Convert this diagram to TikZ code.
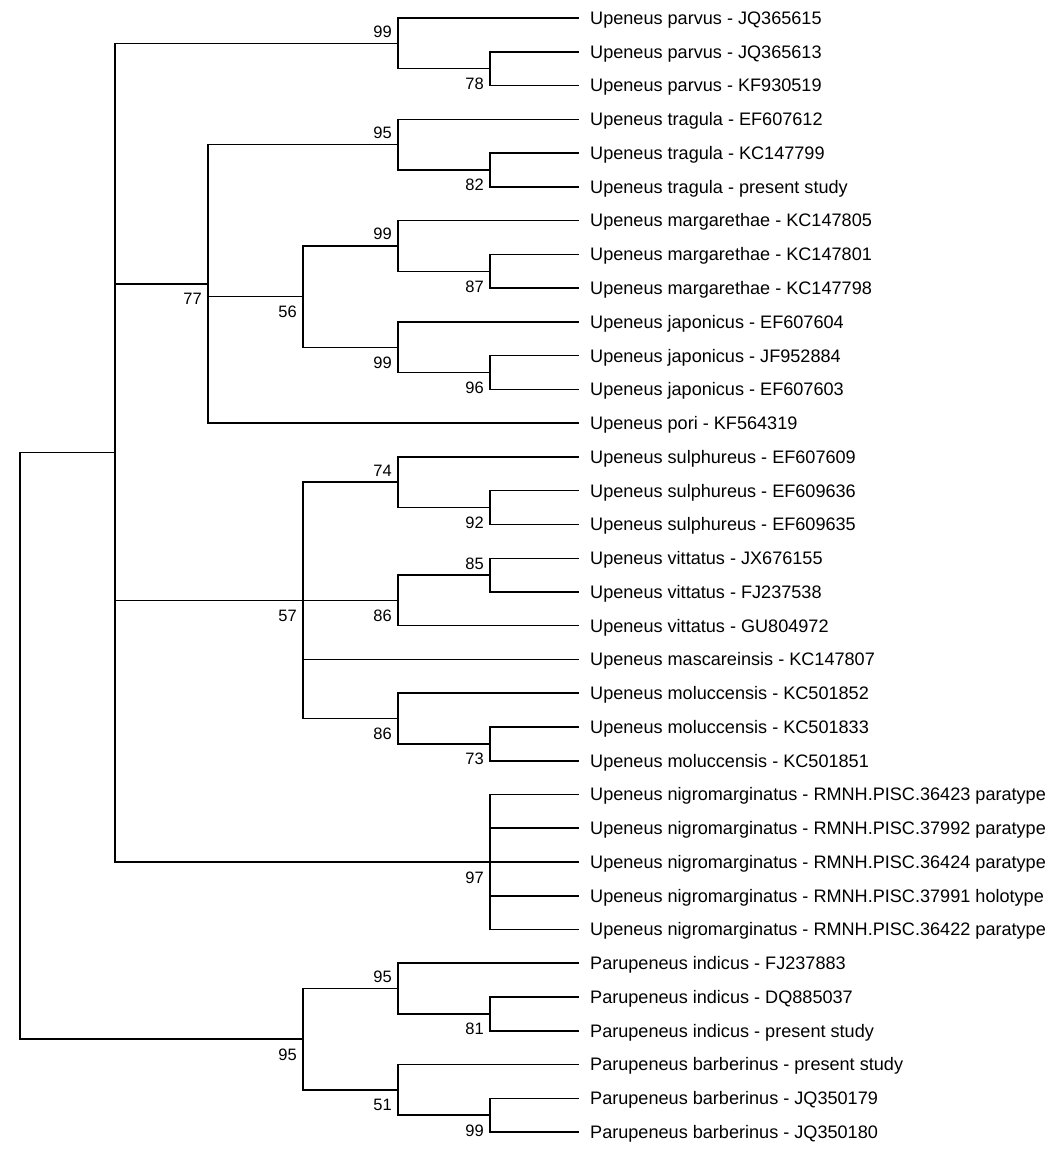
\documentclass[tikz,border=0pt]{standalone}
\usepackage{fontspec}
\setmainfont{Liberation Sans}
\usetikzlibrary{calc}
\tikzset{
  br/.style={line width=1.6pt, line cap=rect},
  thinbr/.style={line width=1.1pt, line cap=rect},
  leaf/.style={anchor=base west, inner sep=0pt, font=\fontsize{18.1}{20}\selectfont},
  bsa/.style={anchor=base east, inner sep=0pt, font=\fontsize{16.5}{18}\selectfont},
}
\newcommand\mkinner[4]{\coordinate (tmp#1) at ($(#3)!.5!(#4)$); \coordinate (#1) at (#2,0 |- tmp#1);}
\begin{document}
\begin{tikzpicture}[x=1pt,y=-1pt]
\useasboundingbox (0,0) rectangle (1061,1149);
\foreach \i/\t in {
 1/{Upeneus parvus - JQ365615},
 2/{Upeneus parvus - JQ365613},
 3/{Upeneus parvus - KF930519},
 4/{Upeneus tragula - EF607612},
 5/{Upeneus tragula - KC147799},
 6/{Upeneus tragula - present study},
 7/{Upeneus margarethae - KC147805},
 8/{Upeneus margarethae - KC147801},
 9/{Upeneus margarethae - KC147798},
 10/{Upeneus japonicus - EF607604},
 11/{Upeneus japonicus - JF952884},
 12/{Upeneus japonicus - EF607603},
 13/{Upeneus pori - KF564319},
 14/{Upeneus sulphureus - EF607609},
 15/{Upeneus sulphureus - EF609636},
 16/{Upeneus sulphureus - EF609635},
 17/{Upeneus vittatus - JX676155},
 18/{Upeneus vittatus - FJ237538},
 19/{Upeneus vittatus - GU804972},
 20/{Upeneus mascareinsis - KC147807},
 21/{Upeneus moluccensis - KC501852},
 22/{Upeneus moluccensis - KC501833},
 23/{Upeneus moluccensis - KC501851},
 24/{Upeneus nigromarginatus - RMNH.PISC.36423 paratype},
 25/{Upeneus nigromarginatus - RMNH.PISC.37992 paratype},
 26/{Upeneus nigromarginatus - RMNH.PISC.36424 paratype},
 27/{Upeneus nigromarginatus - RMNH.PISC.37991 holotype},
 28/{Upeneus nigromarginatus - RMNH.PISC.36422 paratype},
 29/{Parupeneus indicus - FJ237883},
 30/{Parupeneus indicus - DQ885037},
 31/{Parupeneus indicus - present study},
 32/{Parupeneus barberinus - present study},
 33/{Parupeneus barberinus - JQ350179},
 34/{Parupeneus barberinus - JQ350180}}{
  \coordinate (e\i) at (578,{18+(\i-1)*33.76});
  \node[leaf] (t\i) at (590,{24.4+(\i-1)*33.76}) {\t};
}
% inner nodes
\mkinner{a78}{490}{e2}{e3}
\mkinner{a99p}{398}{e1}{a78}
\mkinner{a82}{490}{e5}{e6}
\mkinner{a95t}{398}{e4}{a82}
\mkinner{a87}{490}{e8}{e9}
\mkinner{a99m}{398}{e7}{a87}
\mkinner{a96}{490}{e11}{e12}
\mkinner{a99j}{398}{e10}{a96}
\mkinner{a56}{303}{a99m}{a99j}
\mkinner{a77}{208}{a95t}{e13}
\mkinner{a92}{490}{e15}{e16}
\mkinner{a74}{398}{e14}{a92}
\mkinner{a85}{490}{e17}{e18}
\mkinner{a86v}{398}{a85}{e19}
\mkinner{a73}{490}{e22}{e23}
\mkinner{a86m}{398}{e21}{a73}
\mkinner{a57}{303}{a74}{a86m}
\mkinner{a97}{490}{e24}{e28}
\mkinner{aU}{115}{a99p}{a97}
\mkinner{a81}{490}{e30}{e31}
\mkinner{a95i}{398}{e29}{a81}
\mkinner{a99b}{490}{e33}{e34}
\mkinner{a51}{398}{e32}{a99b}
\mkinner{a95P}{303}{a95i}{a51}
\mkinner{root}{20}{aU}{a95P}
% branches
\draw[br] (a78) |- (e2) (a78) |- (e3);
\draw[br] (a99p) |- (e1) (a99p) |- (a78);
\draw[br] (a82) |- (e5) (a82) |- (e6);
\draw[thinbr] (a95t) |- (e4);
\draw[br] (a95t) |- (a82);
\draw[br] (a87) |- (e8) (a87) |- (e9);
\draw[br] (a99m) |- (e7);
\draw[thinbr] (a99m) |- (a87);
\draw[br] (a96) |- (e11) (a96) |- (e12);
\draw[br] (a99j) |- (e10) (a99j) |- (a96);
\draw[br] (a56) |- (a99m);
\draw[thinbr] (a56) |- (a99j);
\draw[thinbr] (a77) |- (a95t);
\draw[br] (a77) |- (a56) (a77) |- (e13);
\draw[br] (a92) |- (e15) (a92) |- (e16);
\draw[br] (a74) |- (e14) (a74) |- (a92);
\draw[thinbr] (a85) |- (e17);
\draw[br] (a85) |- (e18);
\draw[br] (a86v) |- (a85) (a86v) |- (e19);
\draw[br] (a73) |- (e22) (a73) |- (e23);
\draw[br] (a86m) |- (e21) (a86m) |- (a73);
\draw[br] (a57) |- (a74) (a57) |- (a86v) (a57) |- (e20) (a57) |- (a86m);
\draw[br] (a97) |- (e24) (a97) |- (e25) (a97) |- (e26) (a97) |- (e27) (a97) |- (e28);
\draw[br] (aU) |- (a99p) (aU) |- (a77) (aU) |- (a57) (aU) |- (a97);
\draw[br] (a81) |- (e30) (a81) |- (e31);
\draw[br] (a95i) |- (e29) (a95i) |- (a81);
\draw[br] (a99b) |- (e33) (a99b) |- (e34);
\draw[br] (a51) |- (e32) (a51) |- (a99b);
\draw[br] (a95P) |- (a95i) (a95P) |- (a51);
\draw[br] (root) |- (aU) (root) |- (a95P);
% bootstrap labels (above: -6, below: +21)
\foreach \n/\v/\d in {a99p/99/-6, a78/78/21, a95t/95/-6, a82/82/21, a99m/99/-6, a87/87/21,
  a56/56/21, a99j/99/21, a96/96/21, a77/77/21, a74/74/-6, a92/92/21, a85/85/-6,
  a86v/86/21, a57/57/21, a86m/86/21, a73/73/21, a97/97/21, a95i/95/-6, a81/81/21,
  a95P/95/21, a51/51/21, a99b/99/21}{
  \node[bsa] (lb\n) at ($(\n)+(-6,\d)$) {\v};
}
\end{tikzpicture}
\end{document}
